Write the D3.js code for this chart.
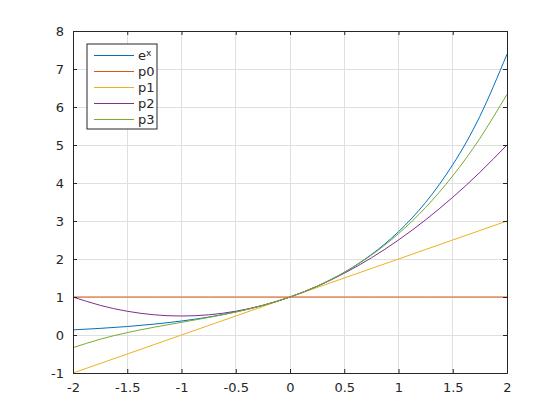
<!DOCTYPE html>
<html>
<head>
<meta charset="utf-8">
<script src="https://cdn.jsdelivr.net/npm/d3@7"></script>
<style>
  html, body { margin: 0; padding: 0; background: #fff; }
  text { font-family: "DejaVu Sans", sans-serif; }
</style>
</head>
<body>
<div id="chart"></div>
<script>
// sample points
const xs = [-2, -1.75, -1.5, -1.25, -1, -0.75, -0.5, -0.25, 0, 0.25, 0.5, 0.75, 1, 1.25, 1.5, 1.75, 2];
const expVals = [0.135, 0.174, 0.223, 0.287, 0.368, 0.472, 0.607, 0.779, 1, 1.284, 1.649, 2.117, 2.718, 3.490, 4.482, 5.755, 7.389];
const p0Vals = [1, 1, 1, 1, 1, 1, 1, 1, 1, 1, 1, 1, 1, 1, 1, 1, 1];
const p1Vals = [-1, -0.75, -0.5, -0.25, 0, 0.25, 0.5, 0.75, 1, 1.25, 1.5, 1.75, 2, 2.25, 2.5, 2.75, 3];
const p2Vals = [1, 0.781, 0.625, 0.531, 0.5, 0.531, 0.625, 0.781, 1, 1.281, 1.625, 2.031, 2.5, 3.031, 3.625, 4.281, 5];
const p3Vals = [-0.333, -0.112, 0.063, 0.206, 0.333, 0.461, 0.604, 0.779, 1, 1.284, 1.646, 2.102, 2.667, 3.357, 4.188, 5.174, 6.333];

const seriesNames = ['e', 'p0', 'p1', 'p2', 'p3'];
const seriesColors = ['#0072bd', '#d95319', '#edb120', '#7e2f8e', '#77ac30'];
const seriesVals = [expVals, p0Vals, p1Vals, p2Vals, p3Vals];

const xTicks = [-2, -1.5, -1, -0.5, 0, 0.5, 1, 1.5, 2];
const yTicks = [-1, 0, 1, 2, 3, 4, 5, 6, 7, 8];

const W = 560, H = 420;
const m = { left: 73, right: 53, top: 31, bottom: 47 };
const iw = W - m.left - m.right, ih = H - m.top - m.bottom;

const svg = d3.select('#chart').append('svg').attr('width', W).attr('height', H);
const g = svg.append('g').attr('transform', `translate(${m.left},${m.top})`);

const x = d3.scaleLinear().domain([-2, 2]).range([0, iw]);
const y = d3.scaleLinear().domain([-1, 8]).range([ih, 0]);

// grid
g.append('g').selectAll('line').data(xTicks).enter().append('line')
  .attr('x1', d => x(d)).attr('x2', d => x(d)).attr('y1', 0).attr('y2', ih)
  .attr('stroke', '#dfdfdf').attr('stroke-width', 1).attr('shape-rendering', 'crispEdges');
g.append('g').selectAll('line').data(yTicks).enter().append('line')
  .attr('y1', d => y(d)).attr('y2', d => y(d)).attr('x1', 0).attr('x2', iw)
  .attr('stroke', '#dfdfdf').attr('stroke-width', 1).attr('shape-rendering', 'crispEdges');

// curves
svg.append('defs').append('clipPath').attr('id', 'clip')
  .append('rect').attr('width', iw).attr('height', ih);

const line = d3.line().x((d, i) => x(xs[i])).y(d => y(d)).curve(d3.curveNatural);
g.append('g').attr('clip-path', 'url(#clip)').selectAll('path').data(seriesVals).enter().append('path')
  .attr('d', d => line(d))
  .attr('fill', 'none')
  .attr('stroke', (d, i) => seriesColors[i])
  .attr('stroke-width', 1);

// axes, hyphen minus like the reference
const fmt = d => String(d);
const tickCol = '#262626';
const xAxis = d3.axisBottom(x).tickValues(xTicks).tickSize(-4).tickPadding(9).tickFormat(fmt);
const yAxis = d3.axisLeft(y).tickValues(yTicks).tickSize(-4).tickPadding(9).tickFormat(fmt);

const xa = g.append('g').attr('transform', `translate(0,${ih})`).call(xAxis);
const ya = g.append('g').call(yAxis);
const xaTop = g.append('g').call(d3.axisTop(x).tickValues(xTicks).tickSize(-4).tickFormat(''));
const yaRight = g.append('g').attr('transform', `translate(${iw},0)`).call(d3.axisRight(y).tickValues(yTicks).tickSize(-4).tickFormat(''));

[xa, ya, xaTop, yaRight].forEach(a => {
  a.select('.domain').attr('stroke', tickCol);
  a.selectAll('.tick line').attr('stroke', tickCol);
  a.selectAll('text').attr('fill', tickCol).style('font-size', '13px');
});
xa.selectAll('text').attr('dy', '0.75em');

// legend
const lg = svg.append('g').attr('transform', 'translate(87,44)');
lg.append('rect').attr('width', 70).attr('height', 85)
  .attr('fill', '#fff').attr('stroke', tickCol).attr('stroke-width', 1);
const rows = lg.selectAll('g.row').data(seriesNames).enter().append('g')
  .attr('class', 'row')
  .attr('transform', (d, i) => `translate(0,${11.5 + i * 16})`);
rows.append('line').attr('x1', 7).attr('x2', 47).attr('y1', 0).attr('y2', 0)
  .attr('stroke', (d, i) => seriesColors[i]).attr('stroke-width', 1);
const lt = rows.append('text').attr('x', 51).attr('y', 0).attr('dy', '0.35em')
  .attr('fill', tickCol).style('font-size', '13px');
lt.each(function(d, i) {
  const t = d3.select(this);
  t.text(d);
  if (i === 0) t.append('tspan').attr('dy', '-0.5em').style('font-size', '9px').text('x');
});
</script>
</body>
</html>
